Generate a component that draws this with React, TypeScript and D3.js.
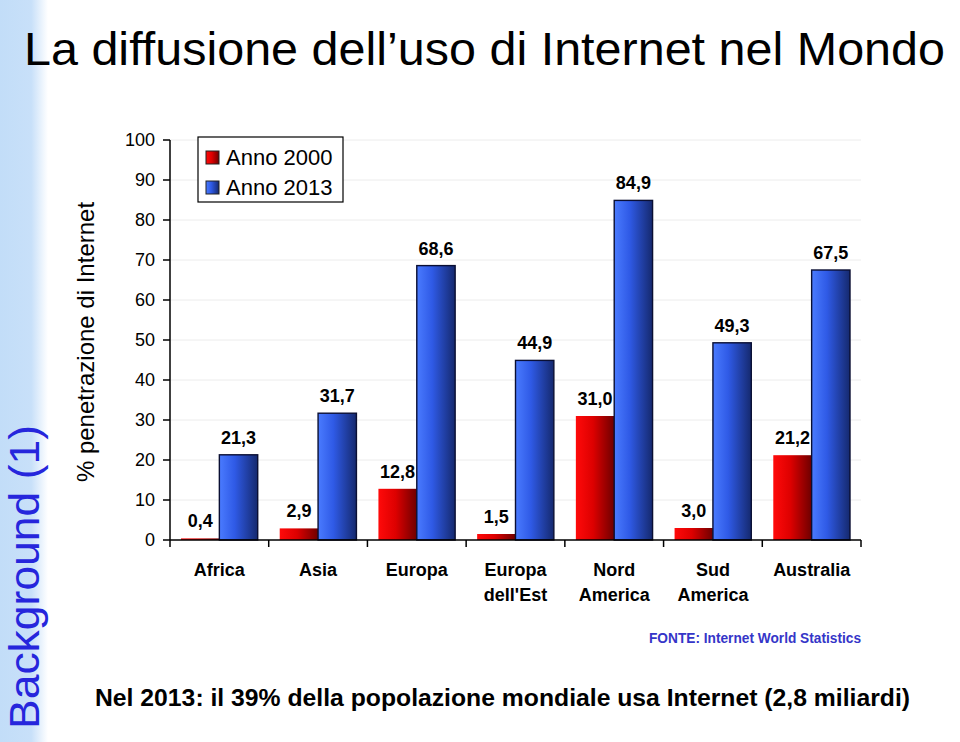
import React from "react";
import * as d3 from "d3";

const categories: string[][] = [
  ["Africa"],
  ["Asia"],
  ["Europa"],
  ["Europa", "dell'Est"],
  ["Nord", "America"],
  ["Sud", "America"],
  ["Australia"],
];
const values2000 = [0.4, 2.9, 12.8, 1.5, 31.0, 3.0, 21.2];
const values2013 = [21.3, 31.7, 68.6, 44.9, 84.9, 49.3, 67.5];
const seriesNames = ["Anno 2000", "Anno 2013"];
const yTicks = [0, 10, 20, 30, 40, 50, 60, 70, 80, 90, 100];

const W = 960;
const H = 742;
const FONT = "Arial, 'Liberation Sans', Helvetica, sans-serif";

export default function App() {
  const x0 = 170;
  const x1 = 861;
  const yTop = 140;
  const yBot = 540;
  const y = d3.scaleLinear().domain([0, 100]).range([yBot, yTop]);
  const band = d3
    .scaleBand<number>()
    .domain(categories.map((_, i) => i))
    .range([x0, x1])
    .padding(0);
  const bw = band.bandwidth();
  const inner = d3
    .scaleBand<number>()
    .domain([0, 1])
    .range([11, bw - 11])
    .padding(0);
  const fmt = (v: number) => d3.format(".1f")(v).replace(".", ",");
  const series = [values2000, values2013];
  const fills = ["url(#gRed)", "url(#gBlue)"];

  return (
    <svg
      width={W}
      height={H}
      style={{ position: "absolute", left: 0, top: 0, background: "#fff" }}
      fontFamily={FONT}
    >
      <defs>
        <linearGradient id="gStrip" x1="0" x2="1" y1="0" y2="0">
          <stop offset="0" stopColor="#c2ddf8" />
          <stop offset="0.65" stopColor="#c8e0f9" />
          <stop offset="1" stopColor="#ffffff" />
        </linearGradient>
        <linearGradient id="gRed" x1="0" x2="1" y1="0" y2="0">
          <stop offset="0" stopColor="#ff0a0a" />
          <stop offset="0.45" stopColor="#dd0000" />
          <stop offset="1" stopColor="#6e0000" />
        </linearGradient>
        <linearGradient id="gBlue" x1="0" x2="1" y1="0" y2="0">
          <stop offset="0" stopColor="#4a7bff" />
          <stop offset="0.4" stopColor="#2f5ae6" />
          <stop offset="1" stopColor="#15296e" />
        </linearGradient>
      </defs>

      <rect x={0} y={0} width={W} height={H} fill="#fff" />
      <rect x={0} y={0} width={48} height={H} fill="url(#gStrip)" />

      <text
        transform="translate(39,577) rotate(-90)"
        textAnchor="middle"
        fontSize={42}
        fill="#2626dc"
        textLength={304}
        lengthAdjust="spacingAndGlyphs"
      >
        Background (1)
      </text>

      <text
        x={24}
        y={65}
        fontSize={47}
        fill="#000"
        textLength={921}
        lengthAdjust="spacingAndGlyphs"
      >
        La diffusione dell’uso di Internet nel Mondo
      </text>

      <text
        transform={`translate(94,${(yTop + yBot) / 2 + 2}) rotate(-90)`}
        textAnchor="middle"
        fontSize={24}
        fill="#000"
      >
        % penetrazione di Internet
      </text>

      {/* gridlines */}
      {yTicks
        .filter((t) => t > 0)
        .map((t) => (
          <line
            key={"g" + t}
            x1={x0}
            x2={x1}
            y1={y(t)}
            y2={y(t)}
            stroke="#ececec"
            strokeWidth={1}
          />
        ))}

      {/* y axis */}
      <line x1={x0} x2={x0} y1={yTop} y2={yBot} stroke="#000" strokeWidth={1.5} />
      {yTicks.map((t) => (
        <g key={"t" + t}>
          <line x1={x0 - 7} x2={x0} y1={y(t)} y2={y(t)} stroke="#000" strokeWidth={1.5} />
          <text
            x={155}
            y={y(t)}
            dy="0.36em"
            textAnchor="end"
            fontSize={18}
            fill="#000"
          >
            {t}
          </text>
        </g>
      ))}

      {/* bars */}
      {series.map((vals, si) =>
        vals.map((v, i) => {
          const bx = (band(i) as number) + (inner(si) as number);
          const w = inner.bandwidth();
          return (
            <g key={`b${si}-${i}`}>
              <rect
                x={bx}
                y={y(v)}
                width={w}
                height={yBot - y(v)}
                fill={fills[si]}
                stroke={si === 0 ? "none" : "#0a0f33"}
                strokeWidth={1.4}
              />
              <text
                x={bx + w / 2}
                y={y(v) - 11}
                textAnchor="middle"
                fontSize={18}
                fontWeight="bold"
                fill="#000"
              >
                {fmt(v)}
              </text>
            </g>
          );
        })
      )}

      {/* x axis */}
      <line x1={x0} x2={x1} y1={yBot} y2={yBot} stroke="#000" strokeWidth={1.5} />
      {categories.map((_, i) => (
        <line
          key={"xt" + i}
          x1={band(i) as number}
          x2={band(i) as number}
          y1={yBot}
          y2={yBot + 7}
          stroke="#000"
          strokeWidth={1.5}
        />
      ))}
      <line x1={x1} x2={x1} y1={yBot} y2={yBot + 7} stroke="#000" strokeWidth={1.5} />
      {categories.map((lines, i) => (
        <text
          key={"cl" + i}
          x={(band(i) as number) + bw / 2}
          y={576}
          textAnchor="middle"
          fontSize={18}
          fontWeight="bold"
          fill="#000"
        >
          {lines.map((l, k) => (
            <tspan key={k} x={(band(i) as number) + bw / 2} dy={k === 0 ? 0 : 25}>
              {l}
            </tspan>
          ))}
        </text>
      ))}

      {/* legend */}
      <rect x={198} y={137} width={145} height={65} fill="#fff" stroke="#000" strokeWidth={1.2} />
      {seriesNames.map((n, si) => (
        <g key={"lg" + si}>
          <rect
            x={206}
            y={151 + si * 30}
            width={13}
            height={13}
            fill={fills[si]}
            stroke="#222"
            strokeWidth={1}
          />
          <text x={226} y={165 + si * 30} fontSize={22} fill="#000">
            {n}
          </text>
        </g>
      ))}

      <text
        x={649}
        y={643}
        fontSize={14}
        fontWeight="bold"
        fill="#3535c8"
        textLength={212}
        lengthAdjust="spacingAndGlyphs"
      >
        FONTE: Internet World Statistics
      </text>

      <text
        x={95}
        y={706}
        fontSize={24}
        fontWeight="bold"
        fill="#000"
        textLength={815}
        lengthAdjust="spacingAndGlyphs"
      >
        Nel 2013: il 39% della popolazione mondiale usa Internet (2,8 miliardi)
      </text>
    </svg>
  );
}
